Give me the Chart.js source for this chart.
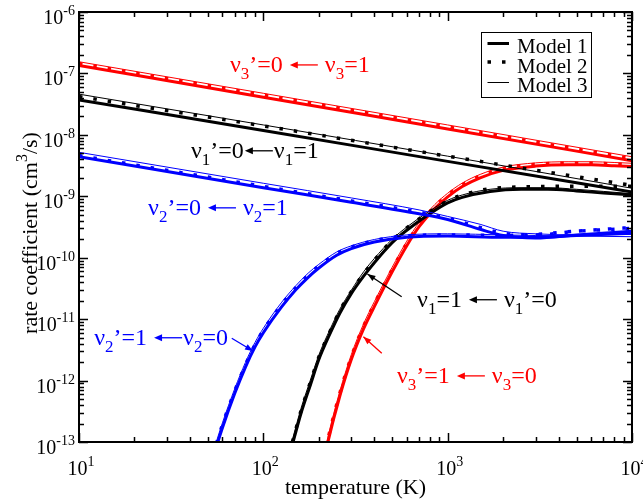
<!DOCTYPE html>
<html>
<head>
<meta charset="utf-8">
<script src="https://cdn.jsdelivr.net/npm/chart.js@4.4.1/dist/chart.umd.min.js"></script>
<style>
  html, body { margin: 0; padding: 0; background: #fff; }
</style>
</head>
<body>
<canvas id="myChart" width="643" height="499"></canvas>
<script>
const serif = '"Liberation Serif", "Times New Roman", serif'

// temperature grids (K)
const tDeex = [10, 100, 1000, 10000]
const tBlueDeex = [10, 100, 300, 700, 1000, 1500, 2000, 3000, 5000, 10000]
const tBlueEx = [50, 60, 70, 80, 90, 100, 125, 150, 175, 200, 250, 300, 400, 600, 1000, 2000, 3000, 5000, 10000]
const tBlackEx = [130, 145, 160, 180, 200, 230, 260, 300, 350, 400, 500, 600, 800, 1000, 1200, 1700, 2500, 3500, 5000, 7000, 10000]
const tRedEx = [210, 224, 260, 300, 350, 400, 500, 600, 700, 850, 1000, 1200, 1500, 2000, 3000, 4500, 6000, 8000, 10000]

// rate coefficients (cm^3/s), de-excitation v'=0 <- v=1
const red1De = [1.35e-7, 4.1e-8, 1.25e-8, 3.8e-9]
const red2De = [1.45e-7, 4.45e-8, 1.35e-8, 4.1e-9]
const red3De = [1.55e-7, 4.75e-8, 1.45e-8, 4.4e-9]

const blk1De = [3.7e-8, 1.18e-8, 3.7e-9, 1.17e-9]
const blk2De = [4.2e-8, 1.4e-8, 4.5e-9, 1.5e-9]
const blk3De = [4.6e-8, 1.45e-8, 4.5e-9, 1.35e-9]

const blu1De = [4.4e-9, 1.38e-9, 8.0e-10, 5.2e-10, 4.2e-10, 2.9e-10, 2.3e-10, 2.1e-10, 2.35e-10, 2.7e-10]
const blu2De = [4.6e-9, 1.45e-9, 8.4e-10, 5.5e-10, 4.4e-10, 3.1e-10, 2.5e-10, 2.35e-10, 2.7e-10, 3.1e-10]
const blu3De = [5.2e-9, 1.63e-9, 9.4e-10, 6.0e-10, 4.7e-10, 3.5e-10, 2.7e-10, 2.45e-10, 2.35e-10, 2.4e-10]

// excitation v'=1 <- v=0
const blu1Ex = [3.0e-14, 1.7e-13, 6.2e-13, 1.66e-12, 3.5e-12, 6.0e-12, 1.55e-11, 3.0e-11, 4.8e-11, 6.8e-11, 1.1e-10, 1.41e-10, 1.8e-10, 2.15e-10, 2.25e-10, 2.15e-10, 2.15e-10, 2.3e-10, 2.5e-10]
const blu2Ex = [3.3e-14, 1.9e-13, 6.8e-13, 1.8e-12, 3.8e-12, 6.6e-12, 1.7e-11, 3.25e-11, 5.2e-11, 7.3e-11, 1.17e-10, 1.49e-10, 1.9e-10, 2.27e-10, 2.35e-10, 2.3e-10, 2.4e-10, 2.7e-10, 3.0e-10]
const blu3Ex = [3.6e-14, 2.05e-13, 7.4e-13, 1.98e-12, 4.15e-12, 7.1e-12, 1.84e-11, 3.5e-11, 5.6e-11, 7.8e-11, 1.24e-10, 1.56e-10, 1.98e-10, 2.35e-10, 2.45e-10, 2.35e-10, 2.3e-10, 2.25e-10, 2.2e-10]

const blk1Ex = [3.2e-14, 1.0e-13, 2.9e-13, 8.5e-13, 2.2e-12, 5.8e-12, 1.25e-11, 2.6e-11, 5.0e-11, 8.3e-11, 1.76e-10, 2.8e-10, 5.2e-10, 7.8e-10, 9.6e-10, 1.2e-9, 1.3e-9, 1.3e-9, 1.22e-9, 1.13e-9, 1.05e-9]
const blk2Ex = [3.5e-14, 1.1e-13, 3.2e-13, 9.4e-13, 2.4e-12, 6.3e-12, 1.37e-11, 2.8e-11, 5.5e-11, 9.1e-11, 1.92e-10, 3.05e-10, 5.6e-10, 8.4e-10, 1.05e-9, 1.33e-9, 1.42e-9, 1.45e-9, 1.45e-9, 1.45e-9, 1.45e-9]
const blk3Ex = [3.8e-14, 1.2e-13, 3.5e-13, 1.02e-12, 2.6e-12, 6.8e-12, 1.45e-11, 2.95e-11, 5.9e-11, 9.7e-11, 2.0e-10, 3.15e-10, 5.8e-10, 8.6e-10, 1.05e-9, 1.3e-9, 1.38e-9, 1.38e-9, 1.3e-9, 1.2e-9, 1.1e-9]

const red1Ex = [4.0e-14, 1.0e-13, 5.6e-13, 2.2e-12, 7.0e-12, 1.6e-11, 5.9e-11, 1.57e-10, 3.2e-10, 6.3e-10, 9.8e-10, 1.44e-9, 2.0e-9, 2.64e-9, 3.1e-9, 3.25e-9, 3.25e-9, 3.15e-9, 3.05e-9]
const red2Ex = [4.4e-14, 1.1e-13, 6.2e-13, 2.42e-12, 7.7e-12, 1.76e-11, 6.45e-11, 1.71e-10, 3.48e-10, 6.8e-10, 1.05e-9, 1.54e-9, 2.14e-9, 2.83e-9, 3.3e-9, 3.45e-9, 3.45e-9, 3.35e-9, 3.25e-9]
const red3Ex = [4.8e-14, 1.2e-13, 6.7e-13, 2.64e-12, 8.4e-12, 1.92e-11, 7.0e-11, 1.86e-10, 3.75e-10, 7.3e-10, 1.12e-9, 1.64e-9, 2.27e-9, 2.99e-9, 3.5e-9, 3.65e-9, 3.65e-9, 3.55e-9, 3.45e-9]

// axis decades
const xExps = [1, 2, 3, 4]
const yExps = [-13, -12, -11, -10, -9, -8, -7, -6]

const legendNames = ['Model 1', 'Model 2', 'Model 3']

// curve labels: pieces [text, kind] kind 0 normal, 1 subscript, 3 arrow; anchor (T, k)
const curveLabels = [
  { parts: [['ν',0],['3',1],['’=0 ',0],['',3],[' ν',0],['3',1],['=1',0]], color: '#ff0000', T: 65.9, k: 1.05e-7, align: 'left' },
  { parts: [['ν',0],['1',1],['’=0',0],['',3],['ν',0],['1',1],['=1',0]], color: '#000000', T: 40.5, k: 4.2e-9, align: 'left' },
  { parts: [['ν',0],['2',1],['’=0 ',0],['',3],[' ν',0],['2',1],['=1',0]], color: '#0000ff', T: 23.7, k: 4.95e-10, align: 'left' },
  { parts: [['ν',0],['1',1],['=1 ',0],['',3],[' ν',0],['1',1],['’=0',0]], color: '#000000', T: 682, k: 1.58e-11, align: 'left' },
  { parts: [['ν',0],['3',1],['’=1 ',0],['',3],[' ν',0],['3',1],['=0',0]], color: '#ff0000', T: 531, k: 9.1e-13, align: 'left' },
  { parts: [['ν',0],['2',1],['’=1 ',0],['',3],['ν',0],['2',1],['=0',0]], color: '#0000ff', T: 64.3, k: 3.8e-12, align: 'right' }
]
// leader arrows: from (T,k) to tip (T,k)
const leaders = [
  { color: '#000000', from: [563, 2.32e-11], to: [367, 5.43e-11] },
  { color: '#ff0000', from: [439, 2.78e-12], to: [349, 5.18e-12] },
  { color: '#0000ff', from: [67.4, 4.88e-12], to: [87.9, 3.03e-12] }
]

const curves = [
  [tDeex, red1De, '#ff0000', 1], [tDeex, red2De, '#ff0000', 2], [tDeex, red3De, '#ff0000', 3],
  [tDeex, blk1De, '#000000', 1], [tDeex, blk2De, '#000000', 2], [tDeex, blk3De, '#000000', 3],
  [tBlueDeex, blu1De, '#0000ff', 1], [tBlueDeex, blu2De, '#0000ff', 2], [tBlueDeex, blu3De, '#0000ff', 3],
  [tBlueEx, blu1Ex, '#0000ff', 1], [tBlueEx, blu2Ex, '#0000ff', 2], [tBlueEx, blu3Ex, '#0000ff', 3],
  [tBlackEx, blk1Ex, '#000000', 1], [tBlackEx, blk2Ex, '#000000', 2], [tBlackEx, blk3Ex, '#000000', 3],
  [tRedEx, red1Ex, '#ff0000', 1], [tRedEx, red2Ex, '#ff0000', 2], [tRedEx, red3Ex, '#ff0000', 3]
]

const modelStyle = {
  1: { borderWidth: 3 },
  2: { borderWidth: 3.5, borderDash: [3.5, 11] },
  3: { borderWidth: 1 }
}

const datasets = curves.map(([ts, ks, color, model]) => ({
  data: ts.map((t, i) => ({ x: t, y: ks[i] })),
  borderColor: color,
  backgroundColor: color,
  pointRadius: 0,
  fill: false,
  cubicInterpolationMode: 'monotone',
  borderCapStyle: 'butt',
  ...modelStyle[model]
}))

const arrowLen = 30

function richText(ctx, parts, x, y, size, color, align) {
  const small = Math.round(size * 0.72)
  const fonts = parts.map(p => (p[1] === 1 || p[1] === 2 ? small : size) + 'px ' + serif)
  const widths = parts.map((p, i) => {
    if (p[1] === 3) return arrowLen
    ctx.font = fonts[i]
    return ctx.measureText(p[0]).width
  })
  const w = widths.reduce((s, v) => s + v, 0)
  let cx = align === 'center' ? x - w / 2 : align === 'right' ? x - w : x
  ctx.fillStyle = color
  ctx.strokeStyle = color
  ctx.textAlign = 'left'
  ctx.textBaseline = 'alphabetic'
  parts.forEach((p, i) => {
    if (p[1] === 3) {
      // left arrow
      const ay = y - size * 0.3
      ctx.lineWidth = 1.3
      ctx.beginPath(); ctx.moveTo(cx + 4, ay); ctx.lineTo(cx + arrowLen - 1, ay); ctx.stroke()
      ctx.beginPath()
      ctx.moveTo(cx + 1, ay); ctx.lineTo(cx + 9, ay - 3.5); ctx.lineTo(cx + 9, ay + 3.5)
      ctx.closePath(); ctx.fill()
    } else {
      ctx.font = fonts[i]
      let dy = 0
      if (p[1] === 1) dy = size * 0.3
      if (p[1] === 2) dy = -size * 0.45
      ctx.fillText(p[0], cx, y + dy)
    }
    cx += widths[i]
  })
  return w
}

const decorations = {
  id: 'decorations',
  afterDraw(chart) {
    const { ctx, chartArea: a, scales: { x, y } } = chart
    ctx.save()

    // frame
    ctx.strokeStyle = '#000'
    ctx.lineWidth = 2
    ctx.strokeRect(a.left, a.top, a.right - a.left, a.bottom - a.top)

    // inward ticks on all four sides
    ctx.lineWidth = 1.5
    ctx.beginPath()
    xExps.forEach(e => {
      for (let m = 1; m <= 9; m++) {
        if (m > 1 && e === xExps[xExps.length - 1]) break
        const px = Math.round(x.getPixelForValue(m * Math.pow(10, e))) + 0.5
        const len = m === 1 ? 9 : 5
        ctx.moveTo(px, a.bottom); ctx.lineTo(px, a.bottom - len)
        ctx.moveTo(px, a.top); ctx.lineTo(px, a.top + len)
      }
    })
    yExps.forEach(e => {
      for (let m = 1; m <= 9; m++) {
        if (m > 1 && e === yExps[yExps.length - 1]) break
        const py = Math.round(y.getPixelForValue(m * Math.pow(10, e))) + 0.5
        const len = m === 1 ? 9 : 5
        ctx.moveTo(a.left, py); ctx.lineTo(a.left + len, py)
        ctx.moveTo(a.right, py); ctx.lineTo(a.right - len, py)
      }
    })
    ctx.stroke()

    // tick labels
    xExps.forEach(e => {
      const px = x.getPixelForValue(Math.pow(10, e))
      richText(ctx, [['10', 0], [String(e), 2]], px + 2, a.bottom + 33, 20, '#000', 'center')
    })
    yExps.forEach(e => {
      const py = y.getPixelForValue(Math.pow(10, e))
      richText(ctx, [['10', 0], [String(e), 2]], a.left - 4, py + 12, 20, '#000', 'right')
    })

    // axis titles
    richText(ctx, [['temperature (K)', 0]], (a.left + a.right) / 2, a.bottom + 52, 22, '#000', 'center')
    ctx.save()
    ctx.translate(37, (a.top + a.bottom) / 2 + 6)
    ctx.rotate(-Math.PI / 2)
    richText(ctx, [['rate coefficient (cm', 0], ['3', 2], ['/s)', 0]], 0, 0, 22, '#000', 'center')
    ctx.restore()

    // curve labels
    curveLabels.forEach(l => {
      richText(ctx, l.parts, x.getPixelForValue(l.T), y.getPixelForValue(l.k), 24, l.color, l.align)
    })

    // leader arrows
    leaders.forEach(l => {
      const x0 = x.getPixelForValue(l.from[0]), y0 = y.getPixelForValue(l.from[1])
      const x1 = x.getPixelForValue(l.to[0]), y1 = y.getPixelForValue(l.to[1])
      const ang = Math.atan2(y1 - y0, x1 - x0)
      ctx.strokeStyle = l.color
      ctx.fillStyle = l.color
      ctx.lineWidth = 1.3
      ctx.beginPath(); ctx.moveTo(x0, y0); ctx.lineTo(x1, y1); ctx.stroke()
      ctx.beginPath()
      ctx.moveTo(x1, y1)
      ctx.lineTo(x1 - 8 * Math.cos(ang) + 3 * Math.sin(ang), y1 - 8 * Math.sin(ang) - 3 * Math.cos(ang))
      ctx.lineTo(x1 - 8 * Math.cos(ang) - 3 * Math.sin(ang), y1 - 8 * Math.sin(ang) + 3 * Math.cos(ang))
      ctx.closePath(); ctx.fill()
    })

    // legend box
    ctx.strokeStyle = '#000'
    ctx.lineWidth = 1
    ctx.strokeRect(481.5, 32.5, 110, 65)
    legendNames.forEach((name, i) => {
      const ly = [43.5, 62, 82.5][i]
      ctx.save()
      ctx.strokeStyle = '#000'
      ctx.lineCap = 'butt'
      ctx.lineWidth = modelStyle[i + 1].borderWidth
      ctx.setLineDash(modelStyle[i + 1].borderDash || [])
      ctx.beginPath(); ctx.moveTo(487.5, ly); ctx.lineTo(509, ly); ctx.stroke()
      ctx.restore()
      richText(ctx, [[name, 0]], 517, [53, 72.5, 92][i], 21, '#000', 'left')
    })

    ctx.restore()
  }
}

const ctx = document.getElementById('myChart')

new Chart(ctx, {
  type: 'line',
  data: { datasets },
  options: {
    responsive: false,
    animation: false,
    devicePixelRatio: 1,
    layout: { padding: { left: 79, right: 11, top: 12, bottom: 57 } },
    plugins: { legend: { display: false }, tooltip: { enabled: false } },
    scales: {
      x: { type: 'logarithmic', min: 10, max: 10000, display: false },
      y: { type: 'logarithmic', min: 1e-13, max: 1e-6, display: false }
    }
  },
  plugins: [decorations]
})
</script>
</body>
</html>
